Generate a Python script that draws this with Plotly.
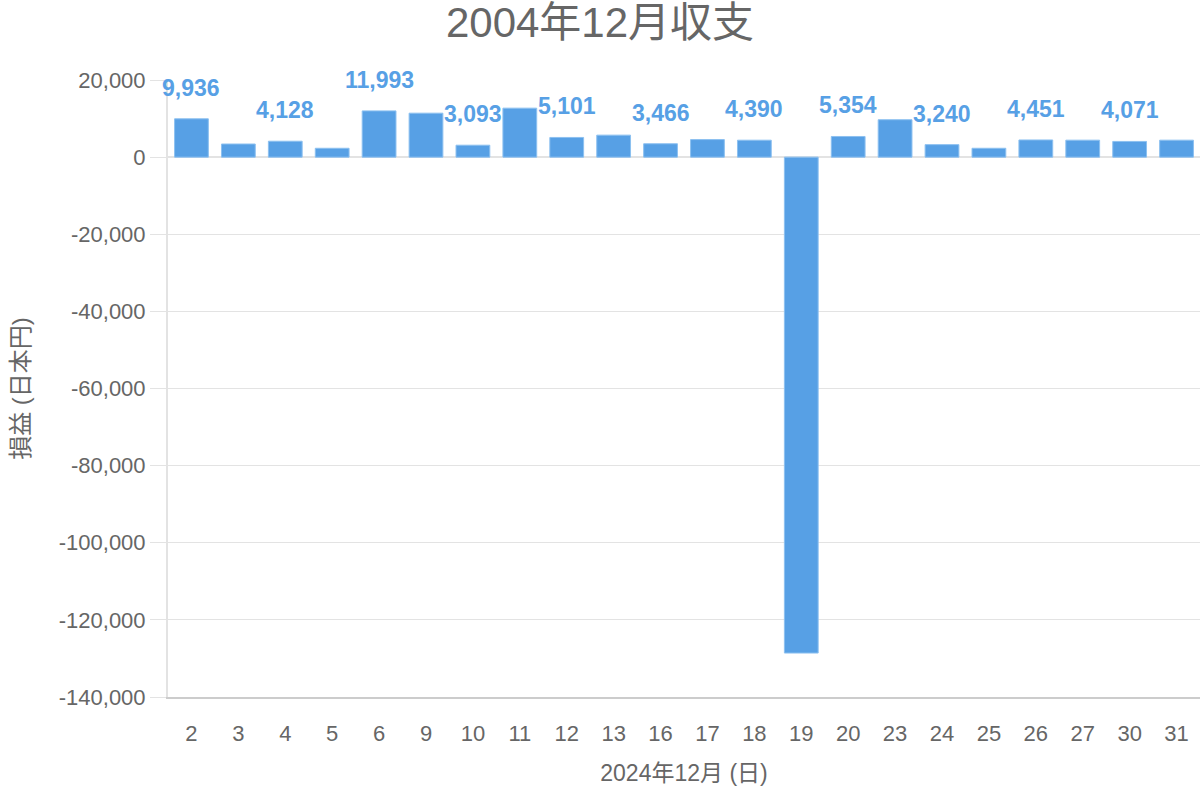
import plotly.graph_objects as go

days = ["2", "3", "4", "5", "6", "9", "10", "11", "12", "13", "16", "17",
        "18", "19", "20", "23", "24", "25", "26", "27", "30", "31"]
profit = [9936, 3400, 4128, 2300, 11993, 11400, 3093, 12700, 5101, 5700, 3466, 4550,
          4390, -128600, 5354, 9700, 3240, 2300, 4451, 4400, 4071, 4400]

title_text = "2004年12月収支"
x_title = "2024年12月 (日)"
y_title = "損益 (日本円)"
y_ticks = [20000, 0, -20000, -40000, -60000, -80000, -100000, -120000, -140000]
y_ticktext = [f"{v:,}" for v in y_ticks]

FONT = "Liberation Sans, Arial, Noto Sans CJK JP, sans-serif"
GREY = "#666666"
BAR = "#57A0E5"

fig = go.Figure()
fig.add_trace(go.Bar(
    x=days, y=profit,
    marker=dict(color=BAR, line=dict(color="#8CC0F0", width=1)),
    hoverinfo="x+y",
))

annotations = []
for i, v in enumerate(profit):
    if i % 2 == 0:
        annotations.append(dict(
            x=i, y=v, xref="x", yref="y", text=f"<b>{v:,}</b>",
            showarrow=False, yshift=31, yanchor="middle",
            font=dict(family=FONT, size=23, color=BAR),
        ))

fig.update_layout(
    width=1200, height=800,
    margin=dict(l=168, r=0, t=80, b=103, autoexpand=False),
    paper_bgcolor="white", plot_bgcolor="white",
    font=dict(family=FONT, color=GREY),
    title=dict(text=title_text, x=0.5, xref="container", xanchor="center",
               y=1 - 22 / 800, yref="container", yanchor="middle",
               font=dict(size=42, color=GREY, family=FONT)),
    bargap=0.28,
    showlegend=False,
    annotations=annotations,
    xaxis=dict(
        type="category", range=[-0.5, len(days) - 0.5],
        showgrid=False, showline=True, linecolor="#cccccc", linewidth=2,
        ticks="outside", ticklen=16, tickcolor="rgba(0,0,0,0)",
        tickfont=dict(size=22, color=GREY), automargin=False,
        title=dict(text=x_title, font=dict(size=23, color=GREY), standoff=19),
        zeroline=False,
    ),
    yaxis=dict(
        range=[-140000, 20000], tickvals=y_ticks, ticktext=y_ticktext,
        automargin=False,
        showgrid=True, gridcolor="#e3e3e3", gridwidth=1,
        zeroline=True, zerolinecolor="#e3e3e3", zerolinewidth=2,
        showline=True, linecolor="#e3e3e3", linewidth=2,
        ticks="outside", ticklen=16, tickcolor="#e3e3e3", tickwidth=1,
        tickfont=dict(size=22, color=GREY),
        title=dict(text=y_title, font=dict(size=24, color=GREY), standoff=22),
    ),
)

fig.write_html("out.html", config={"displayModeBar": False},
               post_script="document.body.style.margin='0';")
